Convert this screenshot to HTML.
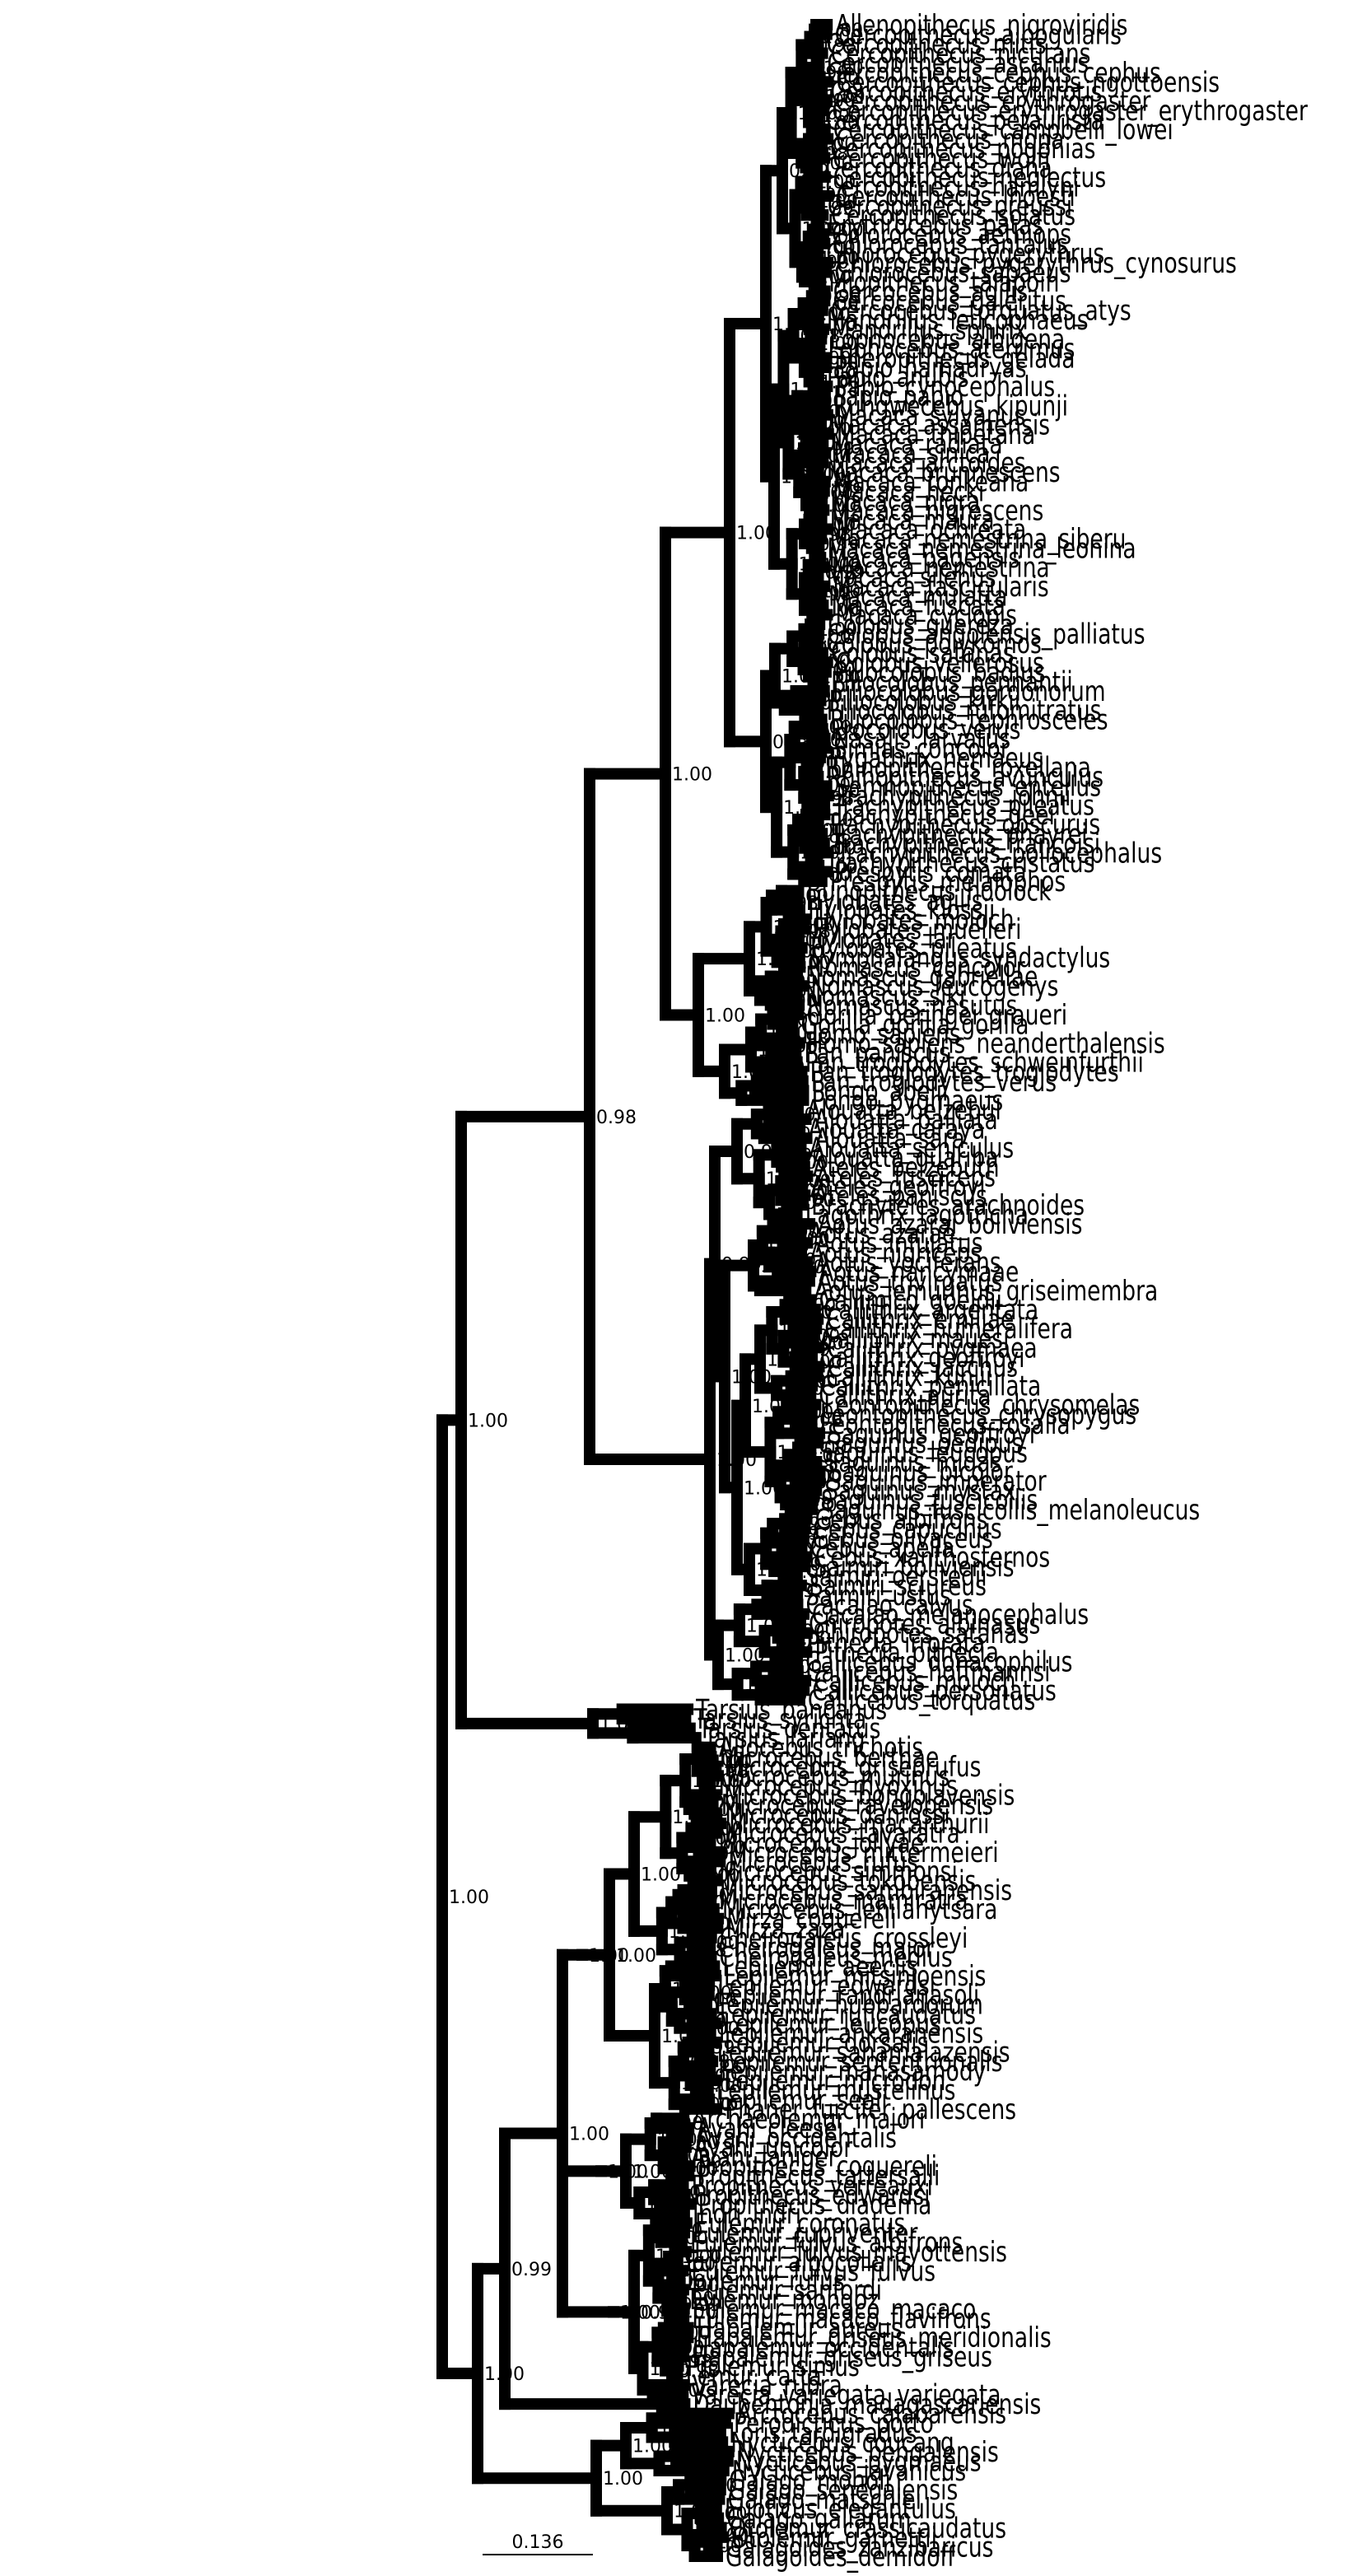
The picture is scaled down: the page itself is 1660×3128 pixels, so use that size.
<!DOCTYPE html>
<html><head><meta charset="utf-8">
<style>
html,body{margin:0;padding:0;background:#fff;}
svg{display:block;}
text{font-family:"DejaVu Sans","Liberation Sans",sans-serif;fill:#000;}
</style></head>
<body>
<svg id="s" width="1660" height="3128" viewBox="0 0 1660 3128" xmlns="http://www.w3.org/2000/svg">
<g id="lines" stroke="#000" stroke-width="14" stroke-linecap="square" fill="none"></g>
<g id="labs"></g>
<line x1="586" y1="3102" x2="720" y2="3102" stroke="#000" stroke-width="2"/>
<text x="653" y="3094" font-size="22" text-anchor="middle">0.136</text>
</svg>
<script>
var G={
cerc:"Allenopithecus_nigroviridis Cercopithecus_albogularis Cercopithecus_mitis Cercopithecus_nictitans Cercopithecus_ascanius Cercopithecus_cephus_cephus Cercopithecus_cephus_ngottoensis Cercopithecus_erythrotis Cercopithecus_erythrogaster Cercopithecus_erythrogaster_erythrogaster Cercopithecus_petaurista Cercopithecus_campbelli_lowei Cercopithecus_mona Cercopithecus_pogonias Cercopithecus_wolfi Cercopithecus_diana Cercopithecus_neglectus Cercopithecus_hamlyni Cercopithecus_lhoesti Cercopithecus_preussi Cercopithecus_solatus Erythrocebus_patas Chlorocebus_aethiops Chlorocebus_tantalus Chlorocebus_pygerythrus Chlorocebus_pygerythrus_cynosurus Chlorocebus_sabaeus Miopithecus_talapoin",
pap:"Cercocebus_agilis Cercocebus_galeritus Cercocebus_torquatus_atys Mandrillus_leucophaeus Mandrillus_sphinx Lophocebus_albigena Lophocebus_aterrimus Theropithecus_gelada Papio_hamadryas Papio_anubis Papio_cynocephalus Papio_papio Rungwecebus_kipunji Macaca_sylvanus Macaca_assamensis Macaca_thibetana Macaca_radiata Macaca_sinica Macaca_arctoides Macaca_brunnescens Macaca_tonkeana Macaca_hecki Macaca_nigra Macaca_nigrescens Macaca_maura Macaca_ochreata Macaca_nemestrina_siberu Macaca_nemestrina_leonina Macaca_pagensis Macaca_nemestrina Macaca_silenus Macaca_fascicularis Macaca_mulatta Macaca_fuscata Macaca_cyclopis",
col:"Colobus_guereza Colobus_angolensis_palliatus Colobus_polykomos Colobus_satanas Colobus_vellerosus Piliocolobus_badius Piliocolobus_pennantii Piliocolobus_gordonorum Piliocolobus_kirkii Piliocolobus_rufomitratus Piliocolobus_tephrosceles Procolobus_verus Nasalis_larvatus Simias_concolor Pygathrix_nemaeus Rhinopithecus_roxellana Rhinopithecus_avunculus Semnopithecus_entellus Trachypithecus_johnii Trachypithecus_pileatus Trachypithecus_geei Trachypithecus_obscurus Trachypithecus_phayrei Trachypithecus_francoisi Trachypithecus_poliocephalus Trachypithecus_cristatus Presbytis_comata Presbytis_melalophos",
hylo:"Bunopithecus_hoolock Hylobates_agilis Hylobates_klossii Hylobates_moloch Hylobates_muelleri Hylobates_lar Hylobates_pileatus Symphalangus_syndactylus Nomascus_concolor Nomascus_gabriellae Nomascus_leucogenys Nomascus_siki Nomascus_nasutus",
homi:"Gorilla_beringei_graueri Gorilla_gorilla_gorilla Homo_sapiens Homo_sapiens_neanderthalensis Pan_paniscus Pan_troglodytes_schweinfurthii Pan_troglodytes_troglodytes Pan_troglodytes_verus Pongo_abelii Pongo_pygmaeus",
atel:"Alouatta_belzebul Alouatta_palliata Alouatta_caraya Alouatta_sara Alouatta_seniculus Alouatta_guariba Ateles_belzebuth Ateles_fusciceps Ateles_geoffroyi Ateles_paniscus Brachyteles_arachnoides Lagothrix_lagotricha",
aotus:"Aotus_azarai_boliviensis Aotus_azarae Aotus_infulatus Aotus_nigriceps Aotus_vociferans Aotus_nancymaae Aotus_trivirgatus Aotus_lemurinus_griseimembra",
call:"Callimico_goeldii Callithrix_argentata Callithrix_emiliae Callithrix_humeralifera Callithrix_mauesi Callithrix_pygmaea Callithrix_geoffroyi Callithrix_jacchus Callithrix_kuhlii Callithrix_penicillata Callithrix_aurita Leontopithecus_chrysomelas Leontopithecus_chrysopygus Leontopithecus_rosalia Saguinus_geoffroyi Saguinus_oedipus Saguinus_leucopus Saguinus_midas Saguinus_bicolor Saguinus_imperator Saguinus_mystax Saguinus_fuscicollis Saguinus_fuscicollis_melanoleucus",
cebi:"Cebus_albifrons Cebus_capucinus Cebus_olivaceus Cebus_apella Cebus_xanthosternos Saimiri_boliviensis Saimiri_oerstedii Saimiri_sciureus Saimiri_ustus",
pith:"Cacajao_calvus Cacajao_melanocephalus Chiropotes_albinasus Chiropotes_satanas Pithecia_irrorata Pithecia_pithecia Callicebus_donacophilus Callicebus_hoffmannsi Callicebus_moloch Callicebus_personatus Callicebus_torquatus",
tars:"Tarsius_bancanus Tarsius_syrichta Tarsius_dentatus Tarsius_lariang",
chei:"Allocebus_trichotis Microcebus_berthae Microcebus_griseorufus Microcebus_murinus Microcebus_myoxinus Microcebus_bongolavensis Microcebus_ravelobensis Microcebus_danfossi Microcebus_macarthurii Microcebus_tavaratra Microcebus_jollyae Microcebus_mittermeieri Microcebus_rufus Microcebus_simmonsi Microcebus_tokobensis Microcebus_sambiranensis Microcebus_mamiratra Microcebus_lehilahytsara Mirza_coquereli Mirza_zaza Cheirogaleus_crossleyi Cheirogaleus_major Cheirogaleus_medius",
lepi:"Lepilemur_aeeclis Lepilemur_mitsinjoensis Lepilemur_edwardsi Lepilemur_randrianasoli Lepilemur_hubbardorum Lepilemur_ruficaudatus Lepilemur_leucopus Lepilemur_ankaranensis Lepilemur_dorsalis Lepilemur_sahamalazensis Lepilemur_septentrionalis Lepilemur_manasamody Lepilemur_microdon Lepilemur_mustelinus Lepilemur_seali Phaner_furcifer_pallescens",
indri:"Archaeolemur_majori Avahi_cleesei Avahi_occidentalis Avahi_unicolor Avahi_laniger Propithecus_coquereli Propithecus_tattersalli Propithecus_verreauxi Propithecus_edwardsi Propithecus_diadema Indri_indri",
lemur:"Eulemur_coronatus Eulemur_rubriventer Eulemur_fulvus_albifrons Eulemur_fulvus_mayottensis Eulemur_albocollaris Eulemur_fulvus_fulvus Eulemur_rufus Eulemur_sanfordi Eulemur_mongoz Eulemur_macaco_macaco Eulemur_macaco_flavifrons Hapalemur_aureus Hapalemur_griseus_meridionalis Hapalemur_occidentalis Hapalemur_griseus_griseus Prolemur_simus Lemur_catta Varecia_rubra Varecia_variegata_variegata",
daub:"Daubentonia_madagascariensis",
lor:"Arctocebus_calabarensis Perodicticus_potto Loris_tardigradus Nycticebus_coucang Nycticebus_bengalensis Nycticebus_pygmaeus Nycticebus_javanicus",
gal:"Galago_moholi Galago_senegalensis Galago_matschiei Euoticus_elegantulus Galago_gallarum Otolemur_crassicaudatus Otolemur_garnettii Galagoides_zanzibaricus Galagoides_demidoff"
};
var seed=12345;function R(){seed=(seed*1103515245+12345)&0x7fffffff;return seed/0x7fffffff;}
function N(x,k){return {x:x,k:k};}
function Gp(n,x,tip){var a=G[n].split(" ");return sub(a,x,tip);}
function sub(a,x,tip){
 if(a.length==1) return {leaf:a[0],tip:tip-8+R()*14};
 var n=a.length,k=Math.max(1,Math.min(n-1,Math.round(n*(0.25+R()*0.5))));
 var c1=x+(tip-x)*(0.12+R()*0.3),c2=x+(tip-x)*(0.12+R()*0.3);
 return {x:x,k:[sub(a.slice(0,k),c1,tip),sub(a.slice(k),c2,tip)]};
}
var tree=N(537,[
 N(560,[
 N(716,[
  N(808,[
   N(886,[ N(930,[Gp('cerc',950,1000),Gp('pap',940,1000)]), Gp('col',930,1000) ]),
   N(848,[Gp('hylo',910,975),Gp('homi',880,970)])
  ]),
  N(862,[
   N(868,[Gp('atel',895,975), N(880,[Gp('aotus',915,980), N(895,[Gp('call',905,990),Gp('cebi',910,975)])])]),
   Gp('pith',872,975)
  ])
 ]),
 Gp('tars',720,840)
 ]),
 N(580,[
  N(613,[
   N(683,[ N(707,[ N(740,[Gp('chei',770,870),Gp('lepi',795,865)]) ]), N(730,[Gp('indri',760,835)]), N(745,[Gp('lemur',770,830)]) ]),
   Gp('daub',620,830)
  ]),
  N(724,[Gp('lor',760,880),Gp('gal',810,875)])
 ])
]);
function cnt(t){return t.leaf?1:t.k.reduce(function(s,c){return s+cnt(c);},0);}
var NL=cnt(tree),li=0,y0=30,y1=3104,step=(y1-y0)/(NL-1);
var L="",T="";
function draw(t,px){
 if(t.leaf){var y=y0+li*step;li++;
  L+='<path d="M'+px+' '+y+'H'+t.tip.toFixed(1)+'"/>';
  T+='<text font-size="34" transform="translate('+(t.tip+10).toFixed(1)+','+(y+12).toFixed(1)+') scale(0.78,1)">'+t.leaf+'</text>';
  return y;}
 var ys=t.k.map(function(c){return draw(c,t.x);});
 var a=Math.min.apply(0,ys),b=Math.max.apply(0,ys),m=(a+b)/2;
 if(px!==null) L+='<path d="M'+px+' '+m+'H'+t.x+'"/>';
 L+='<path d="M'+t.x+' '+a+'V'+b+'"/>';
 var v=R()<0.85?"1.00":(R()<0.5?"0.99":"0.98");
 T+='<text font-size="22" x="'+(t.x+8)+'" y="'+(m+8)+'">'+v+'</text>';
 return m;
}
draw(tree,null);
document.getElementById('lines').innerHTML=L;
document.getElementById('labs').innerHTML=T;
</script>
</body></html>
